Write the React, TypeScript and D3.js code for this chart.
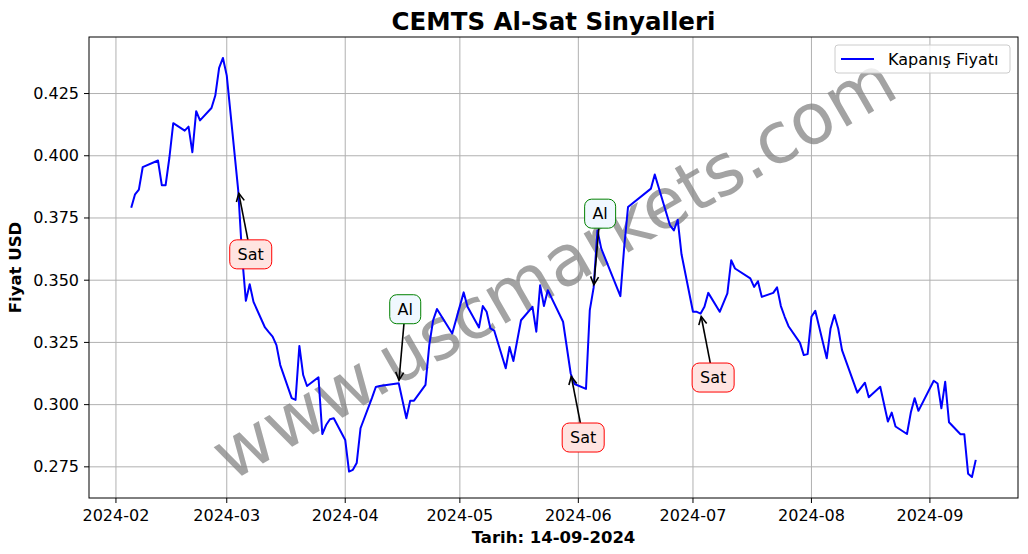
import React from "react";
import * as d3 from "d3";

// Kapanış fiyatları (USD), okunan tepe/dip noktaları
const dates = [
  "2024-02-05", "2024-02-06", "2024-02-07", "2024-02-08", "2024-02-12", "2024-02-13", "2024-02-14",
  "2024-02-15", "2024-02-16", "2024-02-19", "2024-02-20", "2024-02-21", "2024-02-22", "2024-02-23",
  "2024-02-26", "2024-02-27", "2024-02-28", "2024-02-29", "2024-03-01", "2024-03-04", "2024-03-05",
  "2024-03-06", "2024-03-07", "2024-03-08", "2024-03-11", "2024-03-12", "2024-03-13", "2024-03-14",
  "2024-03-15", "2024-03-18", "2024-03-19", "2024-03-20", "2024-03-21", "2024-03-22", "2024-03-25",
  "2024-03-26", "2024-03-27", "2024-03-28", "2024-03-29", "2024-04-01", "2024-04-02", "2024-04-03",
  "2024-04-04", "2024-04-05", "2024-04-08", "2024-04-09", "2024-04-10", "2024-04-15", "2024-04-17",
  "2024-04-18", "2024-04-19", "2024-04-22", "2024-04-23", "2024-04-24", "2024-04-25", "2024-04-29",
  "2024-05-02", "2024-05-03", "2024-05-06", "2024-05-07", "2024-05-08", "2024-05-09", "2024-05-10",
  "2024-05-13", "2024-05-14", "2024-05-15", "2024-05-17", "2024-05-20", "2024-05-21", "2024-05-22",
  "2024-05-23", "2024-05-24", "2024-05-28", "2024-05-30", "2024-05-31", "2024-06-03", "2024-06-04",
  "2024-06-05", "2024-06-06", "2024-06-07", "2024-06-12", "2024-06-13", "2024-06-14", "2024-06-20",
  "2024-06-21", "2024-06-25", "2024-06-26", "2024-06-27", "2024-06-28", "2024-07-01", "2024-07-02",
  "2024-07-03", "2024-07-04", "2024-07-05", "2024-07-08", "2024-07-10", "2024-07-11", "2024-07-12",
  "2024-07-16", "2024-07-17", "2024-07-18", "2024-07-19", "2024-07-22", "2024-07-23", "2024-07-24",
  "2024-07-25", "2024-07-26", "2024-07-29", "2024-07-30", "2024-07-31", "2024-08-01", "2024-08-02",
  "2024-08-05", "2024-08-06", "2024-08-07", "2024-08-08", "2024-08-09", "2024-08-13", "2024-08-15",
  "2024-08-16", "2024-08-19", "2024-08-21", "2024-08-22", "2024-08-23", "2024-08-26", "2024-08-27",
  "2024-08-28", "2024-08-29", "2024-09-02", "2024-09-03", "2024-09-04", "2024-09-05", "2024-09-06",
  "2024-09-09", "2024-09-10", "2024-09-11", "2024-09-12", "2024-09-13",
];

const closes = [
  0.3791, 0.3845, 0.3864, 0.3954, 0.3981, 0.3882, 0.3882,
  0.3994, 0.4131, 0.4101, 0.4117, 0.4014, 0.4179, 0.4142,
  0.4192, 0.4242, 0.4353, 0.4393, 0.4322, 0.3861, 0.3600,
  0.3417, 0.3484, 0.3413, 0.3310, 0.3291, 0.3273, 0.3239,
  0.3159, 0.3026, 0.3019, 0.3236, 0.3119, 0.3075, 0.3110,
  0.2882, 0.2918, 0.2941, 0.2945, 0.2858, 0.2731, 0.2738,
  0.2765, 0.2905, 0.3027, 0.3071, 0.3075, 0.3086, 0.2945,
  0.3016, 0.3016, 0.3079, 0.3240, 0.3339, 0.3384, 0.3286,
  0.3451, 0.3393, 0.3310, 0.3396, 0.3373, 0.3306, 0.3297,
  0.3146, 0.3232, 0.3175, 0.3339, 0.3393, 0.3293, 0.3480,
  0.3396, 0.3460, 0.3333, 0.3125, 0.3083, 0.3063, 0.3380,
  0.3470, 0.3700, 0.3627, 0.3436, 0.3633, 0.3794, 0.3868,
  0.3925, 0.3720, 0.3700, 0.3743, 0.3604, 0.3373, 0.3373,
  0.3366, 0.3393, 0.3449, 0.3373, 0.3447, 0.3580, 0.3547,
  0.3507, 0.3473, 0.3496, 0.3433, 0.3449, 0.3471, 0.3396,
  0.3353, 0.3315, 0.3248, 0.3199, 0.3203, 0.3353, 0.3377,
  0.3186, 0.3306, 0.3360, 0.3306, 0.3219, 0.3048, 0.3088,
  0.3030, 0.3072, 0.2932, 0.2968, 0.2912, 0.2882, 0.2968,
  0.3026, 0.2975, 0.3096, 0.3085, 0.2985, 0.3092, 0.2929,
  0.2881, 0.2881, 0.2722, 0.2709, 0.2778,
];

// Al / Sat sinyalleri
const signalDates = ["2024-03-04", "2024-04-15", "2024-05-30", "2024-06-05", "2024-07-03"];
const signalTypes = ["Sat", "Al", "Sat", "Al", "Sat"];

const xTickLabels = ["2024-02", "2024-03", "2024-04", "2024-05", "2024-06", "2024-07", "2024-08", "2024-09"];
const yTicks = [0.275, 0.3, 0.325, 0.35, 0.375, 0.4, 0.425];

const W = 1028;
const H = 554;
const margin = { left: 89, right: 10, top: 37, bottom: 56 };
const FONT = "DejaVu Sans, sans-serif";

const parseDay = d3.timeParse("%Y-%m-%d");
const parseMonth = d3.timeParse("%Y-%m");

export default function App() {
  const points = dates.map((d, i) => ({ date: parseDay(d) as Date, value: closes[i] }));

  const [t0, t1] = d3.extent(points, (p) => p.date) as [Date, Date];
  const tPad = (t1.getTime() - t0.getTime()) * 0.05;
  const x = d3
    .scaleTime()
    .domain([new Date(t0.getTime() - tPad), new Date(t1.getTime() + tPad)])
    .range([margin.left, W - margin.right]);

  const [v0, v1] = d3.extent(closes) as [number, number];
  const vPad = (v1 - v0) * 0.05;
  const y = d3
    .scaleLinear()
    .domain([v0 - vPad, v1 + vPad])
    .range([H - margin.bottom, margin.top]);

  const line = d3
    .line<{ date: Date; value: number }>()
    .x((p) => x(p.date))
    .y((p) => y(p.value));

  const left = margin.left;
  const right = W - margin.right;
  const top = margin.top;
  const bottom = H - margin.bottom;
  const cx = (left + right) / 2;
  const cy = (top + bottom) / 2;

  const signals = signalDates.map((d, i) => {
    const idx = dates.indexOf(d);
    const type = signalTypes[i];
    const px = x(points[idx].date);
    const py = y(points[idx].value);
    const isSell = type === "Sat";
    const tx = px + (isSell ? 12.5 : 6.5);
    const ty = py + (isSell ? 64 : -74);
    const hw = isSell ? 21 : 15.5;
    const hh = 14.5;
    // arrow from the box edge to the point
    const dx = px - tx;
    const dy = py - ty;
    const t = Math.min(hw / Math.max(Math.abs(dx), 1e-6), hh / Math.max(Math.abs(dy), 1e-6));
    const sx = tx + dx * t;
    const sy = ty + dy * t;
    const len = Math.hypot(px - sx, py - sy);
    const ux = (px - sx) / len;
    const uy = (py - sy) / len;
    const ex = px - ux * 3;
    const ey = py - uy * 3;
    const hl = 8;
    const hwid = 4;
    const head = `M${ex - ux * hl - uy * hwid},${ey - uy * hl + ux * hwid}L${ex},${ey}L${ex - ux * hl + uy * hwid},${ey - uy * hl - ux * hwid}`;
    return { type, tx, ty, hw, hh, sx, sy, ex, ey, head, isSell };
  });

  return (
    <svg
      width={W}
      height={H}
      style={{ position: "absolute", left: 0, top: 0, background: "#fff" }}
      fontFamily={FONT}
    >
      <rect x={0} y={0} width={W} height={H} fill="#fff" />

      {/* grid */}
      {xTickLabels.map((m) => {
        const gx = x(parseMonth(m) as Date);
        return <line key={"gx" + m} x1={gx} x2={gx} y1={top} y2={bottom} stroke="#b0b0b0" strokeWidth={1} />;
      })}
      {yTicks.map((v) => (
        <line key={"gy" + v} x1={left} x2={right} y1={y(v)} y2={y(v)} stroke="#b0b0b0" strokeWidth={1} />
      ))}

      {/* watermark */}
      <text
        x={cx}
        y={cy}
        transform={`rotate(-30 ${cx} ${cy})`}
        textAnchor="middle"
        dominantBaseline="central"
        fontSize={71}
        fill="#808080"
        fillOpacity={0.72}
      >
        www.uscmarkets.com
      </text>

      <path d={line(points) || ""} fill="none" stroke="#0000ff" strokeWidth={2} strokeLinejoin="round" />

      {/* signal annotations */}
      {signals.map((s, i) => (
        <g key={"sig" + i}>
          <line x1={s.sx} y1={s.sy} x2={s.ex} y2={s.ey} stroke="#000" strokeWidth={1.6} />
          <path d={s.head} fill="none" stroke="#000" strokeWidth={1.6} />
          <rect
            x={s.tx - s.hw}
            y={s.ty - s.hh}
            width={s.hw * 2}
            height={s.hh * 2}
            rx={7}
            fill={s.isSell ? "#ffe4e1" : "#f0f8ff"}
            stroke={s.isSell ? "#ff0000" : "#008000"}
            strokeWidth={1}
          />
          <text x={s.tx} y={s.ty} textAnchor="middle" dominantBaseline="central" fontSize={16} fill="#000">
            {s.type}
          </text>
        </g>
      ))}

      {/* axes frame */}
      <rect x={left} y={top} width={right - left} height={bottom - top} fill="none" stroke="#000" strokeWidth={1} />

      {/* x ticks */}
      {xTickLabels.map((m) => {
        const tx = x(parseMonth(m) as Date);
        return (
          <g key={"xt" + m}>
            <line x1={tx} x2={tx} y1={bottom} y2={bottom + 5} stroke="#000" strokeWidth={1} />
            <text x={tx} y={521} textAnchor="middle" fontSize={16} fill="#000">
              {m}
            </text>
          </g>
        );
      })}

      {/* y ticks */}
      {yTicks.map((v) => (
        <g key={"yt" + v}>
          <line x1={left - 5} x2={left} y1={y(v)} y2={y(v)} stroke="#000" strokeWidth={1} />
          <text x={79} y={y(v)} textAnchor="end" dominantBaseline="central" fontSize={16} fill="#000">
            {v.toFixed(3)}
          </text>
        </g>
      ))}

      {/* labels */}
      <text x={cx} y={30} textAnchor="middle" fontSize={24.5} fontWeight="bold" fill="#000">
        CEMTS Al-Sat Sinyalleri
      </text>
      <text x={cx} y={543} textAnchor="middle" fontSize={16.5} fontWeight="bold" fill="#000">
        Tarih: 14-09-2024
      </text>
      <text
        transform={`translate(21,${cy}) rotate(-90)`}
        textAnchor="middle"
        fontSize={16.5}
        fontWeight="bold"
        fill="#000"
      >
        Fiyat USD
      </text>

      {/* legend */}
      <g>
        <rect x={835} y={45} width={175} height={28} rx={3} fill="#fff" fillOpacity={0.8} stroke="#cccccc" strokeWidth={1} />
        <line x1={841} x2={874} y1={59} y2={59} stroke="#0000ff" strokeWidth={2} />
        <text x={888} y={65} fontSize={16} fill="#000">
          Kapanış Fiyatı
        </text>
      </g>
    </svg>
  );
}
